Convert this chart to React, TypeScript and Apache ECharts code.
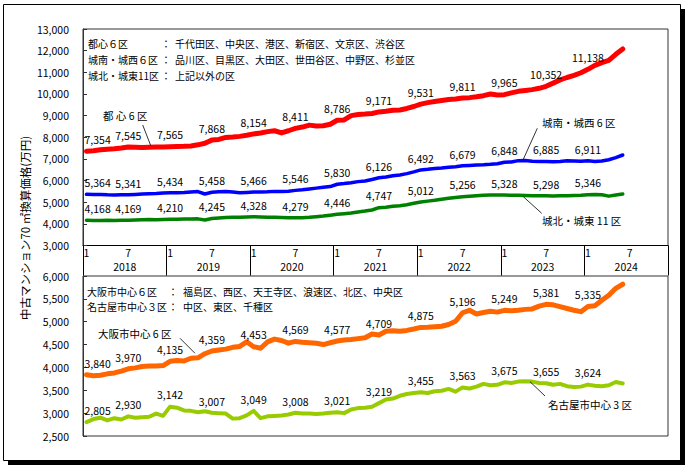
import React, { useEffect, useRef } from 'react';
import * as echarts from 'echarts';

const FONT = '"Noto Sans CJK JP", "Noto Sans", sans-serif';

const years = ['2018', '2019', '2020', '2021', '2022', '2023', '2024'];
const monthCategories: string[] = [];
years.forEach((y) => {
  for (let m = 1; m <= 12; m++) monthCategories.push(`${y}/${m}`);
});

// 都心6区 (Jan 2018 - Jun 2024)
const tokyoCentral6 = [
  7354, 7380, 7420, 7450, 7470, 7500, 7545, 7540, 7530, 7540, 7550, 7555,
  7565, 7570, 7580, 7600, 7650, 7720, 7868, 7900, 7990, 8010, 8040, 8090,
  8154, 8200, 8260, 8300, 8200, 8300, 8411, 8470, 8560, 8520, 8530, 8600,
  8786, 8800, 9000, 9050, 9070, 9100, 9171, 9200, 9250, 9260, 9330, 9420,
  9531, 9600, 9650, 9700, 9740, 9770, 9811, 9830, 9870, 9920, 10000, 9950,
  9965, 10050, 10120, 10160, 10200, 10260, 10352, 10500, 10650, 10760, 10860, 10980,
  11138, 11320, 11450, 11550, 11830, 12080,
];
// 城南・城西6区
const southWest6 = [
  5364, 5350, 5360, 5340, 5330, 5345, 5341, 5360, 5380, 5390, 5400, 5420,
  5434, 5440, 5450, 5470, 5490, 5380, 5458, 5480, 5490, 5470, 5440, 5450,
  5466, 5470, 5480, 5500, 5490, 5510, 5546, 5570, 5610, 5650, 5690, 5720,
  5830, 5860, 5900, 5950, 5980, 6050, 6126, 6160, 6220, 6260, 6320, 6400,
  6492, 6520, 6560, 6580, 6610, 6640, 6679, 6700, 6720, 6730, 6750, 6780,
  6848, 6860, 6920, 6930, 6890, 6880, 6885, 6870, 6880, 6910, 6900, 6890,
  6911, 6880, 6900, 6960, 7060, 7180,
];
// 城北・城東11区
const northEast11 = [
  4168, 4150, 4160, 4170, 4160, 4170, 4169, 4180, 4190, 4200, 4195, 4205,
  4210, 4215, 4220, 4225, 4230, 4180, 4245, 4270, 4290, 4300, 4310, 4320,
  4328, 4320, 4310, 4300, 4290, 4280, 4279, 4285, 4300, 4330, 4360, 4400,
  4446, 4470, 4500, 4550, 4590, 4640, 4747, 4770, 4810, 4840, 4880, 4950,
  5012, 5050, 5090, 5140, 5180, 5220, 5256, 5280, 5300, 5320, 5330, 5330,
  5328, 5325, 5320, 5310, 5300, 5300, 5298, 5290, 5295, 5300, 5310, 5320,
  5346, 5350, 5340, 5280, 5330, 5380,
];
// 大阪市中心6区
const osakaCentral6 = [
  3840, 3820, 3830, 3860, 3880, 3920, 3970, 3990, 4020, 4030, 4030, 4040,
  4135, 4150, 4140, 4200, 4210, 4300, 4359, 4380, 4400, 4440, 4460, 4560,
  4453, 4420, 4560, 4620, 4590, 4530, 4569, 4550, 4540, 4530, 4500, 4540,
  4577, 4600, 4610, 4630, 4650, 4730, 4709, 4790, 4800, 4790, 4810, 4840,
  4875, 4880, 4890, 4900, 4940, 5010, 5196, 5250, 5170, 5200, 5230, 5210,
  5249, 5240, 5250, 5270, 5280, 5340, 5381, 5370, 5330, 5290, 5250, 5220,
  5335, 5350, 5470, 5580, 5730, 5820,
];
// 名古屋市中心3区
const nagoyaCentral3 = [
  2805, 2870, 2900, 2840, 2890, 2860, 2930, 2900, 2910, 2920, 2990, 2940,
  3142, 3120, 3060, 3050, 3020, 3040, 3007, 3000, 2990, 2880, 2890, 2950,
  3049, 2890, 2930, 2940, 2950, 2970, 3008, 2990, 2990, 2980, 2990, 3010,
  3021, 3000, 3080, 3110, 3120, 3140, 3219, 3300, 3320, 3380, 3420, 3440,
  3455, 3440, 3480, 3490, 3530, 3470, 3563, 3540, 3580, 3640, 3610, 3620,
  3675, 3660, 3690, 3700, 3690, 3660, 3655, 3620, 3640, 3590, 3570, 3580,
  3624, 3600, 3590, 3610, 3680, 3650,
];

const topYTicks = { min: 3000, max: 13000, interval: 1000 };
const bottomYTicks = { min: 2500, max: 6000, interval: 500 };

const fmt = (v: number) => Number(v).toLocaleString('en-US');

function makeData(arr: number[]) {
  return arr.map((v, i) => {
    if (i % 6 !== 0) return v;
    const label: any = { show: true };
    if (i === 0) {
      label.align = 'left';
      label.offset = [-2, 0];
    }
    return { value: v, label };
  });
}

function lineSeries(name: string, arr: number[], color: string, width: number, idx: number) {
  return {
    name,
    type: 'line',
    xAxisIndex: idx === 0 ? 0 : 2,
    yAxisIndex: idx,
    data: makeData(arr),
    symbol: 'circle',
    symbolSize: 1,
    showSymbol: true,
    showAllSymbol: true,
    itemStyle: { color: 'rgba(0,0,0,0)' },
    lineStyle: { color, width, cap: 'round', join: 'round' },
    label: {
      show: false,
      position: 'top',
      distance: 6,
      color: '#000',
      fontSize: 10.5,
      fontFamily: FONT,
      formatter: (p: any) => fmt(p.value),
    },
    emphasis: { disabled: true },
    silent: true,
    z: 3,
  };
}

function txt(text: string, x: number, y: number, fontSize = 10, align = 'left') {
  return {
    type: 'text',
    x,
    y,
    silent: true,
    style: {
      text,
      fill: '#000',
      fontSize,
      fontFamily: FONT,
      align,
      verticalAlign: 'middle',
      textAlign: align,
      textVerticalAlign: 'middle',
    },
    z: 10,
  };
}

function leader(x1: number, y1: number, x2: number, y2: number) {
  return {
    type: 'line',
    silent: true,
    shape: { x1, y1, x2, y2 },
    style: { stroke: '#000', lineWidth: 0.8 },
    z: 10,
  };
}

export default function App() {
  const ref = useRef<HTMLDivElement>(null);

  useEffect(() => {
    document.body.style.margin = '0';
    if (!ref.current) return;
    const chart = echarts.init(ref.current, undefined, { renderer: 'svg' });

    const yLabel = {
      fontSize: 10.5,
      fontFamily: FONT,
      color: '#000',
      margin: 14,
      formatter: (v: number) => fmt(v),
    };

    const option: any = {
      animation: false,
      backgroundColor: '#fff',
      textStyle: { fontFamily: FONT },
      grid: [
        { left: 83, top: 29, width: 585, height: 216.5, show: true, borderColor: '#333', borderWidth: 1, backgroundColor: 'transparent' },
        { left: 83, top: 276, width: 585, height: 160, show: true, borderColor: '#333', borderWidth: 1, backgroundColor: 'transparent' },
      ],
      xAxis: [
        {
          type: 'category',
          gridIndex: 0,
          data: monthCategories,
          boundaryGap: true,
          axisLine: { show: true, lineStyle: { color: '#000', width: 1 } },
          axisTick: { show: false },
          splitLine: { show: false },
          axisLabel: {
            interval: (i: number) => i % 6 === 0,
            formatter: (v: string) => v.split('/')[1],
            fontSize: 10.5,
            fontFamily: FONT,
            color: '#000',
            margin: 2,
          },
        },
        {
          type: 'category',
          gridIndex: 0,
          data: years,
          position: 'bottom',
          boundaryGap: true,
          axisLine: { show: false },
          axisTick: { show: true, interval: 0, length: 30, lineStyle: { color: '#000', width: 1 } },
          splitLine: { show: false },
          axisLabel: { interval: 0, fontSize: 10.5, fontFamily: FONT, color: '#000', margin: 16 },
        },
        {
          type: 'category',
          gridIndex: 1,
          data: monthCategories,
          boundaryGap: true,
          axisLine: { show: false },
          axisTick: { show: false },
          axisLabel: { show: false },
          splitLine: { show: false },
        },
      ],
      yAxis: [
        {
          type: 'value',
          gridIndex: 0,
          ...topYTicks,
          axisLine: { show: true, lineStyle: { color: '#333' } },
          axisTick: { show: true, inside: true, length: 4, lineStyle: { color: '#333' } },
          splitLine: { show: false },
          axisLabel: yLabel,
        },
        {
          type: 'value',
          gridIndex: 1,
          ...bottomYTicks,
          axisLine: { show: true, lineStyle: { color: '#333' } },
          axisTick: { show: true, inside: true, length: 4, lineStyle: { color: '#333' } },
          splitLine: { show: false },
          axisLabel: yLabel,
        },
      ],
      series: [
        lineSeries('都心6区', tokyoCentral6, '#FF0000', 5, 0),
        lineSeries('城南・城西6区', southWest6, '#0000FF', 3.5, 0),
        lineSeries('城北・城東11区', northEast11, '#008000', 3.5, 0),
        lineSeries('大阪市中心6区', osakaCentral6, '#FF6600', 5, 1),
        lineSeries('名古屋市中心3区', nagoyaCentral3, '#99CC00', 4, 1),
      ],
      graphic: [
        // outer frame with shadow
        { type: 'rect', silent: true, shape: { x: 3.5, y: 4.5, width: 677, height: 456 }, style: { fill: 'none', stroke: '#000', lineWidth: 1 }, z: 1 },
        { type: 'rect', silent: true, shape: { x: 680, y: 9, width: 5, height: 456 }, style: { fill: '#000' }, z: 1 },
        { type: 'rect', silent: true, shape: { x: 8, y: 460, width: 677, height: 5 }, style: { fill: '#000' }, z: 1 },
        // y-axis title
        {
          type: 'text',
          x: 25,
          y: 228,
          rotation: Math.PI / 2,
          silent: true,
          style: {
            text: '中古マンション70 ㎡換算価格(万円)',
            fill: '#000',
            fontSize: 11.5,
            fontFamily: FONT,
            align: 'center',
            verticalAlign: 'middle',
            textAlign: 'center',
            textVerticalAlign: 'middle',
          },
        },
        // top legend block
        txt('都心６区', 88, 43),
        txt('：', 161, 43),
        txt('千代田区、中央区、港区、新宿区、文京区、渋谷区', 175, 43),
        txt('城南・城西６区', 88, 59.5),
        txt('：', 161, 59.5),
        txt('品川区、目黒区、大田区、世田谷区、中野区、杉並区', 175, 59.5),
        txt('城北・城東11区', 88, 75),
        txt('：', 161, 75),
        txt('上記以外の区', 175, 75),
        // bottom legend block
        txt('大阪市中心６区', 87, 291),
        txt('：', 168, 291),
        txt('福島区、西区、天王寺区、浪速区、北区、中央区', 183, 291),
        txt('名古屋市中心３区', 87, 306),
        txt('：', 168, 306),
        txt('中区、東区、千種区', 183, 306),
        // series name labels with leaders
        txt('都 心 6 区', 103, 115, 10.5),
        leader(142.7, 125, 150.7, 145.5),
        txt('城南・城西 6 区', 542, 122, 10.5),
        leader(537.3, 128.3, 523.3, 159.3),
        txt('城北・城東 11 区', 542, 220, 10.5),
        leader(523.3, 196.7, 541.7, 213.3),
        txt('大阪市中心 6 区', 98, 333.5, 10.5),
        leader(180, 338.3, 195, 353.3),
        txt('名古屋市中心 3 区', 548, 404, 10.5),
        leader(530, 381.7, 545, 396),
      ],
    };

    chart.setOption(option);
    return () => chart.dispose();
  }, []);

  return <div ref={ref} style={{ width: 690, height: 468 }} />;
}
